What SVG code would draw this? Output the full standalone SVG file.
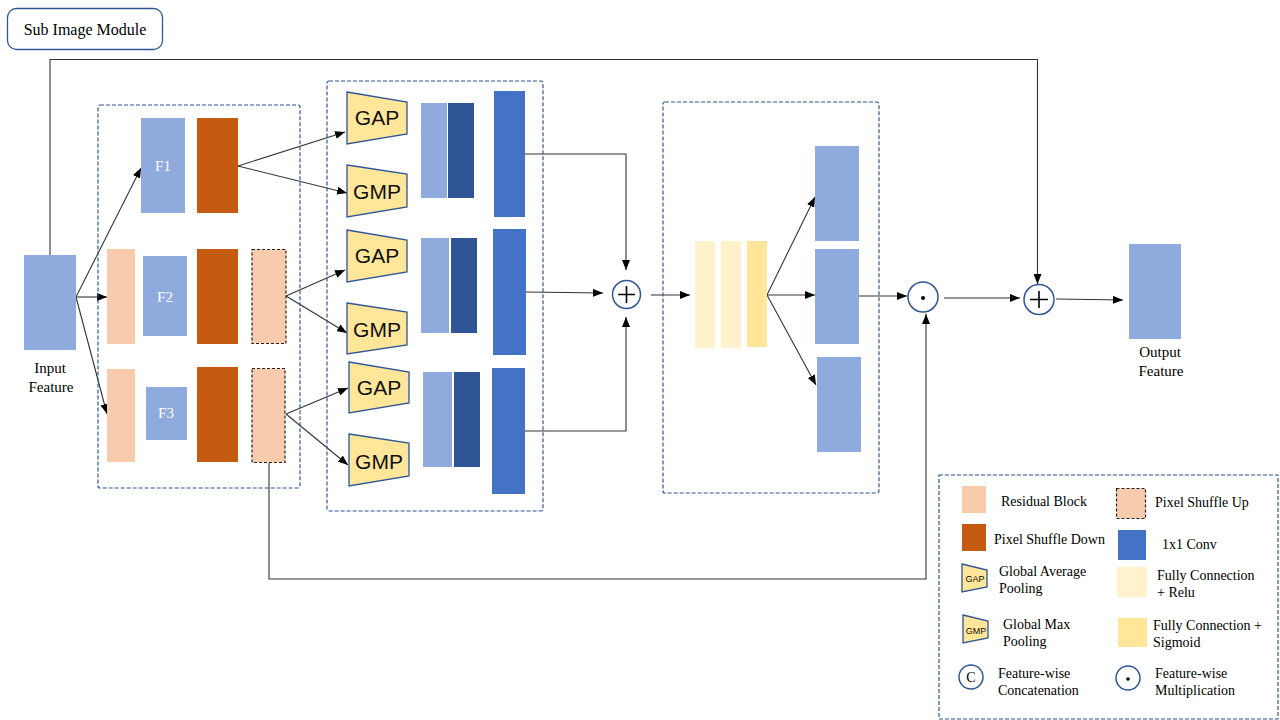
<svg xmlns="http://www.w3.org/2000/svg" width="1280" height="720" viewBox="0 0 1280 720">
<defs>
<marker id="ah" markerUnits="userSpaceOnUse" markerWidth="10" markerHeight="8" refX="10" refY="4" orient="auto">
<path d="M0,0 L10,4 L0,8 z" fill="#000"/>
</marker>
<style>
.t{font-family:"Liberation Serif","Times New Roman",serif;fill:#000}
.lg{font-size:14px}
.s{font-family:"Liberation Sans",Arial,sans-serif;fill:#111}
.ln{fill:none;stroke:#333;stroke-width:1.1}
.ar{fill:none;stroke:#333;stroke-width:1.1;marker-end:url(#ah)}
.dash{fill:none;stroke:#2F5597;stroke-width:1.2;stroke-dasharray:4 2}
.lb{fill:#8FAADC}
.db{fill:#2F5597}
.cv{fill:#4472C4}
.or{fill:#C55A11}
.rb{fill:#F8CBAD}
.psu{fill:#F8CBAD;stroke:#222;stroke-width:1.2;stroke-dasharray:3 2}
.tz{fill:#FFE699;stroke:#2F5597;stroke-width:1.3}
.fc1{fill:#FFF2CC}
.fc2{fill:#FFE699}
.op{fill:#fff;stroke:#2F5597;stroke-width:1.5}
</style>
</defs>
<rect width="1280" height="720" fill="#fff"/>

<g id="title">
<rect x="7.5" y="8.5" width="155" height="41" rx="9" fill="#fff" stroke="#2F5597" stroke-width="1.3"/>
<text class="t" x="85" y="34.5" font-size="16" text-anchor="middle">Sub Image Module</text>
</g>

<g id="connectors">
<polyline class="ar" points="50,255 50,59.5 1037.5,59.5 1037.5,284"/>
<line class="ar" x1="76" y1="297" x2="141" y2="168"/>
<line class="ar" x1="76" y1="297" x2="107" y2="297"/>
<line class="ar" x1="76" y1="297" x2="107" y2="414"/>
<line class="ar" x1="238" y1="166" x2="345" y2="132"/>
<line class="ar" x1="238" y1="166" x2="347" y2="193"/>
<line class="ar" x1="286" y1="296" x2="345" y2="270"/>
<line class="ar" x1="286" y1="296" x2="347" y2="333"/>
<line class="ar" x1="286" y1="414" x2="348" y2="388"/>
<line class="ar" x1="286" y1="414" x2="348" y2="465"/>
<polyline class="ar" points="525,154 626,154 626,270"/>
<line class="ar" x1="526" y1="292" x2="603" y2="293"/>
<polyline class="ar" points="525,431 626,431 626,317"/>
<line class="ar" x1="651" y1="295" x2="690" y2="295"/>
<line class="ar" x1="767" y1="295" x2="815" y2="197"/>
<line class="ar" x1="767" y1="295" x2="815" y2="295"/>
<line class="ar" x1="767" y1="295" x2="816" y2="385"/>
<line class="ar" x1="859" y1="296" x2="907" y2="296"/>
<polyline class="ar" points="269,463 269,579 926,579 926,314"/>
<line class="ar" x1="944" y1="298" x2="1020" y2="298"/>
<line class="ar" x1="1056" y1="299" x2="1123" y2="300"/>
</g>

<g id="input">
<rect class="lb" x="24" y="255" width="52" height="95"/>
<text class="t" x="50" y="373" font-size="15" text-anchor="middle">Input</text>
<text class="t" x="51" y="392" font-size="15" text-anchor="middle">Feature</text>
</g>

<g id="split-box">
<rect class="dash" x="98" y="105" width="202" height="383" rx="2"/>
</g>
<g id="row1">
<rect class="lb" x="141" y="118" width="44" height="95"/>
<text class="t" x="163" y="171" font-size="15" text-anchor="middle" style="fill:#fff">F1</text>
<rect class="or" x="197" y="118" width="41" height="95"/>
</g>
<g id="row2">
<rect class="rb" x="107" y="249" width="28" height="95"/>
<rect class="lb" x="143" y="256" width="44" height="80"/>
<text class="t" x="165" y="302" font-size="15" text-anchor="middle" style="fill:#fff">F2</text>
<rect class="or" x="197" y="249" width="41" height="95"/>
<rect class="psu" x="252" y="249.5" width="34" height="94"/>
</g>
<g id="row3">
<rect class="rb" x="107" y="369" width="28" height="93"/>
<rect class="lb" x="146" y="387" width="41" height="53"/>
<text class="t" x="166" y="418" font-size="15" text-anchor="middle" style="fill:#fff">F3</text>
<rect class="or" x="197" y="367" width="41" height="95"/>
<rect class="psu" x="252" y="368.5" width="33" height="94"/>
</g>

<g id="pool-box">
<rect class="dash" x="327" y="81" width="216" height="430" rx="2"/>
</g>
<g id="pool1">
<polygon class="tz" points="347,92 407,102 407,134 347,144"/>
<text class="s" x="377" y="125" font-size="21" text-anchor="middle">GAP</text>
<polygon class="tz" points="347,165 407,174 407,207 347,217"/>
<text class="s" x="377" y="199" font-size="21" text-anchor="middle">GMP</text>
<rect class="lb" x="421" y="103" width="26" height="95"/>
<rect class="db" x="448" y="103" width="26" height="95"/>
<rect class="cv" x="494" y="91" width="31" height="126"/>
</g>
<g id="pool2">
<polygon class="tz" points="347,230 407,240 407,272 347,282"/>
<text class="s" x="377" y="263" font-size="21" text-anchor="middle">GAP</text>
<polygon class="tz" points="347,303 407,312 407,345 347,354"/>
<text class="s" x="377" y="337" font-size="21" text-anchor="middle">GMP</text>
<rect class="lb" x="421" y="238" width="28" height="95"/>
<rect class="db" x="451" y="238" width="26" height="95"/>
<rect class="cv" x="493" y="229" width="33" height="126"/>
</g>
<g id="pool3">
<polygon class="tz" points="349,362 409,372 409,403 349,413"/>
<text class="s" x="379" y="395" font-size="21" text-anchor="middle">GAP</text>
<polygon class="tz" points="349,434 409,443 409,476 349,486"/>
<text class="s" x="379" y="469" font-size="21" text-anchor="middle">GMP</text>
<rect class="lb" x="423" y="372" width="29" height="95"/>
<rect class="db" x="454" y="372" width="26" height="95"/>
<rect class="cv" x="492" y="368" width="33" height="126"/>
</g>

<g id="add1">
<circle class="op" cx="626.5" cy="294.5" r="14"/>
<path d="M618,294.5 H635 M626.5,286 V303" stroke="#000" stroke-width="1.6"/>
</g>

<g id="attn-box">
<rect class="dash" x="663" y="102" width="216" height="391" rx="2"/>
</g>
<g id="fc">
<rect class="fc1" x="695" y="241" width="20" height="107"/>
<rect class="fc1" x="721" y="241" width="20" height="107"/>
<rect class="fc2" x="747" y="241" width="20" height="106"/>
</g>
<g id="weights">
<rect class="lb" x="815" y="146" width="44" height="95"/>
<rect class="lb" x="815" y="249" width="44" height="95"/>
<rect class="lb" x="817" y="357" width="44" height="95"/>
</g>

<g id="mul">
<circle class="op" cx="923" cy="297" r="15"/>
<circle cx="923" cy="298" r="2" fill="#000"/>
</g>

<g id="add2">
<circle class="op" cx="1039" cy="299.5" r="15"/>
<path d="M1030,299.5 H1048 M1039,291 V308" stroke="#000" stroke-width="1.6"/>
</g>

<g id="output">
<rect class="lb" x="1129" y="244" width="52" height="95"/>
<text class="t" x="1160" y="357" font-size="15" text-anchor="middle">Output</text>
<text class="t" x="1161" y="376" font-size="15" text-anchor="middle">Feature</text>
</g>

<g id="legend">
<rect class="dash" x="939" y="475" width="339" height="244"/>
<rect class="rb" x="962" y="486" width="24" height="27"/>
<text class="t lg" x="1001" y="506">Residual Block</text>
<rect class="or" x="962" y="524" width="24" height="27"/>
<text class="t lg" x="994" y="544">Pixel Shuffle Down</text>
<polygon class="tz" points="962,564 987,570 987,587 962,592" stroke-width="1"/>
<text class="s" x="975" y="582" font-size="9" text-anchor="middle">GAP</text>
<text class="t lg" x="999" y="576">Global Average</text>
<text class="t lg" x="999" y="593">Pooling</text>
<polygon class="tz" points="963,615 988,621 988,638 963,643" stroke-width="1"/>
<text class="s" x="976" y="634" font-size="9" text-anchor="middle">GMP</text>
<text class="t lg" x="1003" y="629">Global Max</text>
<text class="t lg" x="1003" y="646">Pooling</text>
<circle class="op" cx="971" cy="677" r="12" stroke-width="1.3"/>
<text class="t" x="971" y="682" font-size="14" text-anchor="middle">C</text>
<text class="t lg" x="998" y="678">Feature-wise</text>
<text class="t lg" x="998" y="695">Concatenation</text>
<rect class="psu" x="1116.5" y="488.5" width="29" height="30"/>
<text class="t lg" x="1155" y="507">Pixel Shuffle Up</text>
<rect class="cv" x="1118" y="530" width="28" height="30"/>
<text class="t lg" x="1162" y="549">1x1 Conv</text>
<rect class="fc1" x="1117" y="567" width="30" height="30"/>
<text class="t lg" x="1157" y="580">Fully Connection</text>
<text class="t lg" x="1157" y="597">+ Relu</text>
<rect class="fc2" x="1118" y="618" width="29" height="29"/>
<text class="t lg" x="1153" y="630">Fully Connection +</text>
<text class="t lg" x="1153" y="647">Sigmoid</text>
<circle class="op" cx="1128" cy="678" r="12" stroke-width="1.3"/>
<circle cx="1128" cy="679" r="1.8" fill="#000"/>
<text class="t lg" x="1155" y="678">Feature-wise</text>
<text class="t lg" x="1155" y="695">Multiplication</text>
</g>
</svg>
